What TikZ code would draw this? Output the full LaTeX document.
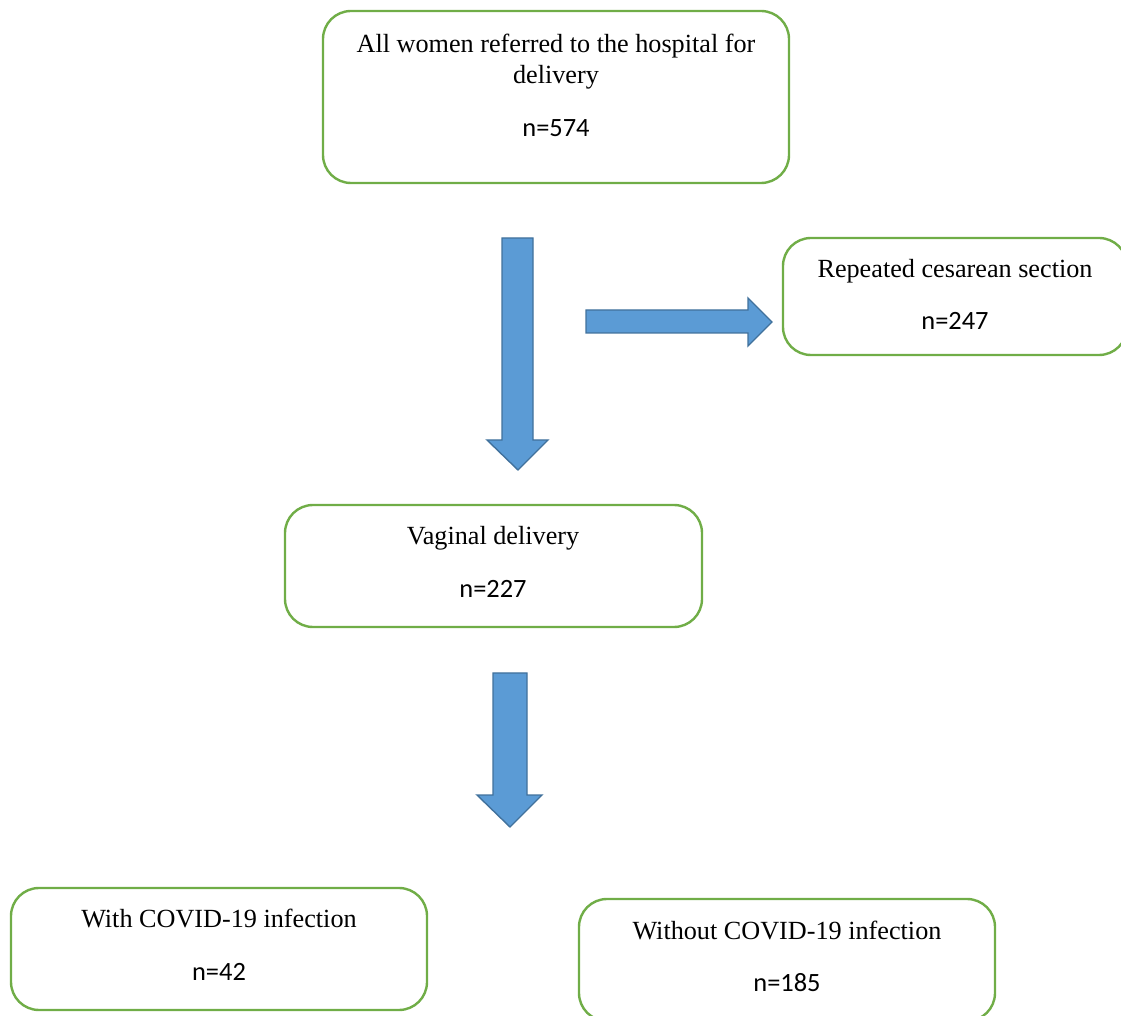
\documentclass[tikz,border=0pt]{standalone}
\usepackage{fontspec}
\setmainfont{Liberation Serif}
\newfontfamily\calib{Carlito}
\definecolor{boxgreen}{HTML}{70AD47}
\definecolor{arrowfill}{HTML}{5B9BD5}
\definecolor{arrowline}{HTML}{41719C}
\begin{document}
\begin{tikzpicture}[x=0.5pt,y=-0.5pt,
  flowbox/.style={draw=boxgreen,line width=1.2pt,rounded corners=14pt},
  blockarrow/.style={fill=arrowfill,draw=arrowline,line width=0.7pt,line join=miter},
  title/.style={anchor=base,inner sep=0pt,font=\fontsize{13.1}{15.5}\selectfont},
  count/.style={anchor=base,inner sep=0pt,font=\calib\fontsize{13.2}{15.5}\selectfont}]
\useasboundingbox (0,0) rectangle (1121,1016);
% boxes
\draw[flowbox] (323,11) rectangle (789,183);
\draw[flowbox] (783,238) rectangle (1127,355);
\draw[flowbox] (285,505) rectangle (702,627);
\draw[flowbox] (11,888) rectangle (427,1010);
\draw[flowbox] (579,899) rectangle (995,1021);
% texts
\node[title] (t1a) at (556,53) {All women referred to the hospital for};
\node[title] (t1b) at (556,84) {delivery};
\node[count] (n1) at (556,137) {n=574};
\node[title] (t2) at (955,278) {Repeated cesarean section};
\node[count] (n2) at (955,330) {n=247};
\node[title] (t3) at (493,545) {Vaginal delivery};
\node[count] (n3) at (493,597) {n=227};
\node[title] (t4) at (219,927) {With COVID-19 infection};
\node[count] (n4) at (219,980) {n=42};
\node[title] (t5) at (787,939) {Without COVID-19 infection};
\node[count] (n5) at (787,991) {n=185};
% block arrows
\draw[blockarrow] (502,238) -- (533,238) -- (533,440) -- (548,440) -- (518,470) -- (487,440) -- (502,440) -- cycle;
\draw[blockarrow] (586,310) -- (748,310) -- (748,298) -- (772,322) -- (748,346) -- (748,333) -- (586,333) -- cycle;
\draw[blockarrow] (493,673) -- (527,673) -- (527,795) -- (542,795) -- (510,827) -- (477,795) -- (493,795) -- cycle;
\end{tikzpicture}
\end{document}
